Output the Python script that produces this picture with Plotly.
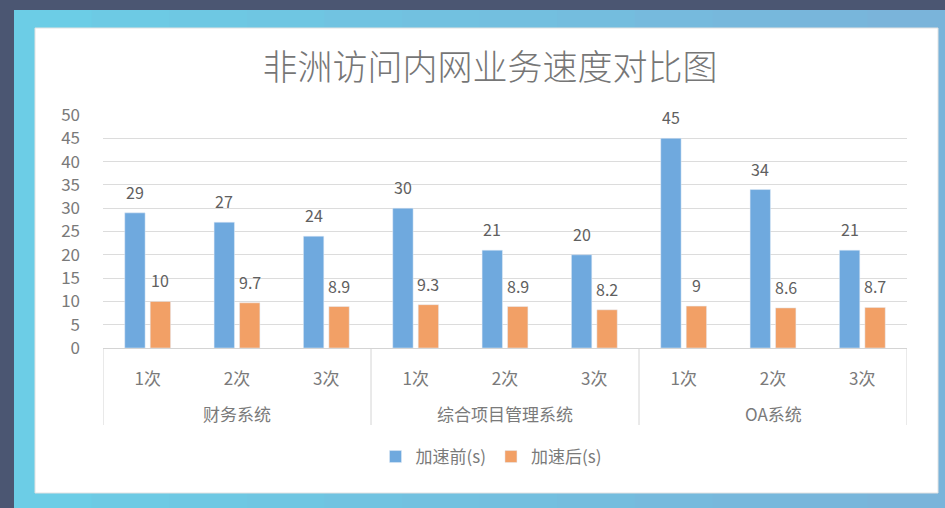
import plotly.graph_objects as go

# ---- data ----
groups = ["财务系统", "综合项目管理系统", "OA系统"]
subs = ["1次", "2次", "3次"]
before = [29, 27, 24, 30, 21, 20, 45, 34, 21]
after = [10, 9.7, 8.9, 9.3, 8.9, 8.2, 9, 8.6, 8.7]
series_names = ["加速前(s)", "加速后(s)"]
title_text = "非洲访问内网业务速度对比图"

x_sub = [s for _ in groups for s in subs]
x_pos = list(range(len(x_sub)))

BLUE = "#6fa9de"
ORANGE = "#f2a066"
GRAY_TXT = "#7a7a7a"
LINE = "#d4d4d4"
FONT = "Noto Sans CJK SC"

W, H = 945, 508
L, R, T, B = 103, 38, 115, 160
PW, PH = W - L - R, H - T - B


def px(x):
    return (x - L) / PW


def py(y):
    return (H - B - y) / PH


fig = go.Figure()
fig.add_trace(go.Bar(x=x_pos, y=before, name=series_names[0], marker_color=BLUE))
fig.add_trace(go.Bar(x=x_pos, y=after, name=series_names[1], marker_color=ORANGE))

bargap, groupgap = 0.43, 0.2
slot = (1 - bargap) / 2
annotations = []
for i, (b, a) in enumerate(zip(before, after)):
    for val, off in ((b, -slot / 2), (a, slot / 2)):
        annotations.append(dict(
            x=i + off, y=val, xref="x", yref="y", text=f"{val:g}",
            showarrow=False, yanchor="bottom", yshift=7,
            font=dict(family=FONT, size=16, color="#606060")))

# group labels (second level of the category axis)
n_sub = len(subs)
for gi, g in enumerate(groups):
    annotations.append(dict(
        x=gi * n_sub + (n_sub - 1) / 2, y=py(413), xref="x", yref="paper",
        text=g, showarrow=False, xanchor="center", yanchor="middle",
        font=dict(family=FONT, size=17, color=GRAY_TXT)))

# ---- background (slide frame + white panel) ----
shapes = []
c0 = (0x6c, 0xcd, 0xe6)
c1 = (0x7a, 0xb4, 0xda)
n = 12
for k in range(n):
    t = k / (n - 1)
    col = "#%02x%02x%02x" % tuple(int(c0[j] + (c1[j] - c0[j]) * t) for j in range(3))
    x0 = 14 + (W - 14) * k / n
    x1 = 14 + (W - 14) * (k + 1) / n + 1
    shapes.append(dict(type="rect", xref="paper", yref="paper",
                       x0=px(x0), x1=px(x1), y0=py(H), y1=py(10),
                       fillcolor=col, line_width=0, layer="below"))
shapes.append(dict(type="rect", xref="paper", yref="paper",
                   x0=px(0), x1=px(14), y0=py(H), y1=py(0),
                   fillcolor="#4b5672", line_width=0, layer="below"))
shapes.append(dict(type="rect", xref="paper", yref="paper",
                   x0=px(0), x1=px(W), y0=py(10), y1=py(0),
                   fillcolor="#4b5672", line_width=0, layer="below"))
shapes.append(dict(type="rect", xref="paper", yref="paper",
                   x0=px(35), x1=px(938), y0=py(493), y1=py(28),
                   fillcolor="#ffffff", line=dict(color="#e2e2e2", width=1),
                   layer="below"))
# group dividers of the category axis
for gi in range(len(groups) + 1):
    xd = gi * n_sub - 0.5
    shapes.append(dict(type="line", xref="x", yref="paper",
                       x0=xd, x1=xd, y0=0, y1=py(425),
                       line=dict(color=LINE, width=1)))

fig.update_layout(
    width=W, height=H,
    margin=dict(l=L, r=R, t=T, b=B, pad=0),
    paper_bgcolor="#74c0e0",
    plot_bgcolor="rgba(0,0,0,0)",
    barmode="group", bargap=bargap, bargroupgap=groupgap,
    font=dict(family=FONT, color=GRAY_TXT, size=16),
    title=dict(text=title_text, xref="container", yref="container",
               x=490 / W, y=1 - 68 / H, xanchor="center", yanchor="middle",
               font=dict(family=FONT, size=35, color="#767676", weight=300)),
    legend=dict(orientation="h", x=px(491), y=py(457), xanchor="center",
                yanchor="middle", font=dict(family=FONT, size=17, color=GRAY_TXT),
                bgcolor="rgba(0,0,0,0)", itemwidth=30, traceorder="normal"),
    showlegend=True,
    shapes=shapes,
    annotations=annotations,
)
fig.update_yaxes(range=[0, 50], dtick=5, showgrid=True, gridcolor="#dcdcdc",
                 gridwidth=1, zeroline=False, showline=False,
                 ticklabelstandoff=22,
                 tickfont=dict(family=FONT, size=17, color=GRAY_TXT))
fig.update_xaxes(range=[-0.5, len(x_pos) - 0.5], tickmode="array",
                 tickvals=x_pos, ticktext=x_sub, showgrid=False, zeroline=False,
                 showline=True, linecolor=LINE, ticks="",
                 ticklabelstandoff=16,
                 tickfont=dict(family=FONT, size=17, color=GRAY_TXT))

fig.write_html("out.html", config={"displayModeBar": False},
               post_script="document.body.style.margin='0px';")
